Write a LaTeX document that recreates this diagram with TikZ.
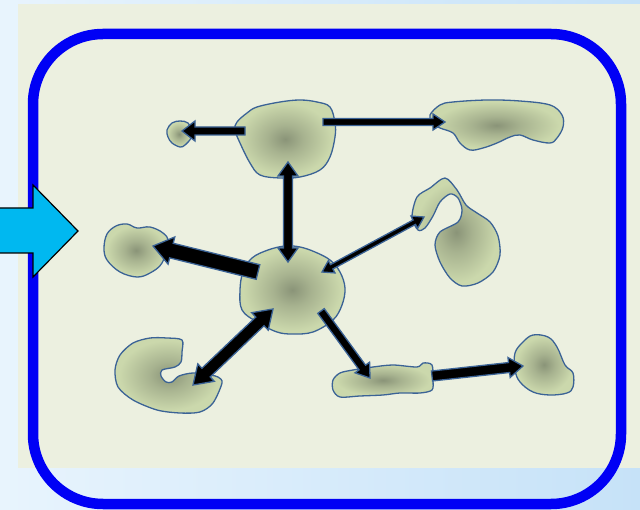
\documentclass[tikz,border=0pt]{standalone}
\usetikzlibrary{calc}

\definecolor{bgleft}{RGB}{232,244,253}
\definecolor{bgright}{RGB}{198,226,248}
\definecolor{paper}{RGB}{236,240,224}
\definecolor{frameblue}{RGB}{0,0,245}
\definecolor{inflow}{RGB}{0,184,240}
\definecolor{blobdark}{RGB}{138,148,120}
\definecolor{bloblight}{RGB}{203,216,172}
\definecolor{blobedge}{RGB}{59,99,150}

\pgfdeclareradialshading{blobshade}{\pgfpoint{0bp}{0bp}}{color(0bp)=(blobdark); color(9bp)=(blobdark!55!bloblight); color(23bp)=(bloblight); color(50bp)=(bloblight)}

% #1 tail, #2 tip, #3 half shaft, #4 half head, #5 head length
\newcommand{\onewayarrow}[5]{%
  \coordinate (hb) at ($(#2)!#5!(#1)$);
  \filldraw[flowarrow] ($(#1)!#3!90:(#2)$) -- ($(hb)!#3!90:(#2)$) -- ($(hb)!#4!90:(#2)$) -- (#2)
    -- ($(hb)!#4!-90:(#2)$) -- ($(hb)!#3!-90:(#2)$) -- ($(#1)!#3!-90:(#2)$) -- cycle;}
\newcommand{\twowayarrow}[5]{%
  \coordinate (hb) at ($(#2)!#5!(#1)$);
  \coordinate (ht) at ($(#1)!#5!(#2)$);
  \filldraw[flowarrow] (#1) -- ($(ht)!#4!90:(#2)$) -- ($(ht)!#3!90:(#2)$) -- ($(hb)!#3!-90:(#1)$)
    -- ($(hb)!#4!-90:(#1)$) -- (#2) -- ($(hb)!#4!90:(#1)$) -- ($(hb)!#3!90:(#1)$)
    -- ($(ht)!#3!-90:(#2)$) -- ($(ht)!#4!-90:(#2)$) -- cycle;}

\begin{document}
\begin{tikzpicture}[x=1pt,y=-1pt,
    blob/.style={shading=blobshade,draw=blobedge,line width=1.3pt},
    flowarrow/.style={fill=black,draw=blobedge,line width=1.3pt,line join=miter}]
    \useasboundingbox (0,0) rectangle (640,510);
    \shade[left color=bgleft,right color=bgright] (0,0) rectangle (640,510);
    \fill[paper] (18,4) rectangle (640,468);
    \draw[frameblue,line width=10.5pt,rounded corners=70pt] (33,34) rectangle (621,504);

    % inflow
    \filldraw[fill=inflow,draw=black,line width=1.2pt] (-3,208) -- (33,208) -- (33,185) -- (78,231)
        -- (33,277) -- (33,253) -- (-3,253) -- cycle;

    % blobs
    \shadedraw[blob] plot[smooth cycle,tension=0.6] coordinates {(167,130) (172,123) (180,121) (188,123)
        (191,131) (191,138) (185,145) (180,147) (172,143) (168,137)};
    \shadedraw[blob] plot[smooth cycle,tension=0.6] coordinates {(235,130) (237,122) (247,113) (257,107)
        (280,102) (300,100) (317,102) (330,107) (335,123) (335,137) (330,157) (320,170) (300,177)
        (280,178) (260,175) (250,163) (240,143)};
    \shadedraw[blob] plot[smooth cycle,tension=0.6] coordinates {(432,123) (430,115) (440,105) (453,102)
        (487,100) (520,101) (550,105) (562,115) (563,127) (557,138) (550,143) (533,140) (520,135)
        (510,137) (497,143) (483,148) (470,150) (460,143) (453,133) (440,128)};
    \shadedraw[blob] plot[smooth cycle,tension=0.6] coordinates {(104,248) (107,234) (116,226) (127,224)
        (137,228) (150,227) (163,233) (168,242) (162,263) (150,273) (137,277) (120,272) (107,260)};
    \shadedraw[blob] plot[smooth cycle,tension=0.6] coordinates {(240,290) (242,310) (257,322) (277,332)
        (293,334) (313,332) (333,320) (342,305) (345,288) (340,272) (330,260) (315,252) (300,247)
        (285,246) (268,250) (252,258) (243,272)};
    \shadedraw[blob] plot[smooth cycle,tension=0.5] coordinates {(445,178) (430,188) (417,197) (412,217)
        (418,230) (425,228) (433,216) (440,202) (450,194) (458,198) (462,210) (458,222) (440,232)
        (435,245) (440,262) (450,278) (462,286) (478,283) (493,272) (500,255) (498,236) (490,222)
        (477,213) (466,205) (457,190)};
    \shadedraw[blob] plot[smooth cycle,tension=0.5] coordinates {(182,340) (167,338) (150,338) (133,343)
        (120,355) (115,370) (118,387) (133,400) (157,410) (180,413) (200,412) (213,403) (222,383)
        (218,377) (210,375) (193,373) (179,376) (172,382) (166,382) (161,376) (162,370) (175,367)
        (181,362) (182,352)};
    \shadedraw[blob] plot[smooth cycle,tension=0.5] coordinates {(333,380) (340,373) (353,370) (373,367)
        (393,365) (417,367) (423,363) (432,365) (433,380) (432,390) (420,393) (400,393) (383,395)
        (360,396) (340,397) (333,390)};
    \shadedraw[blob] plot[smooth cycle,tension=0.6] coordinates {(515,353) (523,342) (533,335) (548,337)
        (557,347) (565,365) (573,373) (573,387) (567,393) (550,395) (533,392) (520,382) (515,370)};

    % connectors
    \coordinate (topW) at (245,131);
    \coordinate (dotE) at (182,131);
    \coordinate (topE) at (323,122);
    \coordinate (longW) at (445,122);
    \coordinate (topS) at (288,162);
    \coordinate (hubN) at (288,262);
    \coordinate (hubW) at (258,272);
    \coordinate (leftE) at (153,246);
    \coordinate (hubNE) at (322,272);
    \coordinate (hookW) at (424,217);
    \coordinate (hubSW) at (273,309);
    \coordinate (cupE) at (193,385);
    \coordinate (hubSE) at (321,311);
    \coordinate (barW) at (370,378);
    \coordinate (barE) at (432,376);
    \coordinate (knobW) at (523,366);

    \onewayarrow{topW}{dotE}{4pt}{10pt}{13pt}
    \onewayarrow{topE}{longW}{3.5pt}{8pt}{12pt}
    \twowayarrow{hubN}{topS}{4.5pt}{10pt}{14pt}
    \onewayarrow{hubW}{leftE}{7.5pt}{14pt}{19pt}
    \twowayarrow{hubNE}{hookW}{2.5pt}{7pt}{11pt}
    \twowayarrow{hubSW}{cupE}{6pt}{12pt}{18pt}
    \onewayarrow{hubSE}{barW}{4pt}{9pt}{13pt}
    \onewayarrow{barE}{knobW}{5pt}{10pt}{14pt}
\end{tikzpicture}
\end{document}
